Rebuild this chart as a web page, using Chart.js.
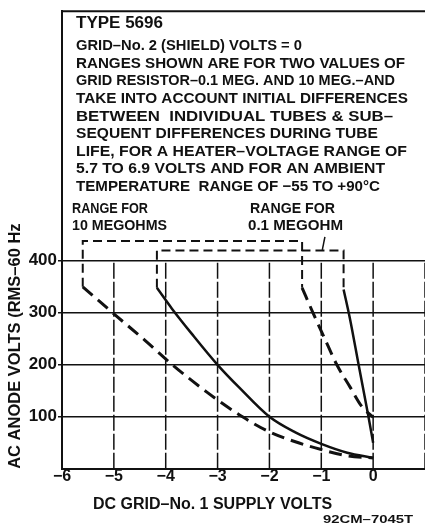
<!DOCTYPE html>
<html>
<head>
<meta charset="utf-8">
<script src="https://cdn.jsdelivr.net/npm/chart.js@4.4.1/dist/chart.umd.min.js"></script>
<style>
  html, body { margin: 0; padding: 0; background: #fff; }
  #wrap { position: relative; width: 425px; height: 525px; }
</style>
</head>
<body>
<div id="wrap"><canvas id="chart"></canvas></div>
<script>
// 10 megohm grid resistor range (dashed curves)
const dashLowX = [-5.6, -5.0, -4.4, -3.87, -3.2, -2.52, -2.0, -1.5, -1.0, -0.5, 0];
const dashLowY = [350, 298, 247, 200, 147, 100, 71, 52, 37, 25, 21];
const dashHighX = [-1.37, -1.16, -0.95, -0.70, -0.45, -0.22, 0];
const dashHighY = [348, 300, 254, 200, 158, 120, 99];

// 0.1 megohm grid resistor range (solid curves)
const solidLowX = [-4.17, -3.88, -3.5, -3.0, -2.58, -2.0, -1.5, -1.0, -0.5, 0];
const solidLowY = [348, 308, 260, 200, 156, 100, 70, 48, 31, 21];
const solidHighX = [-0.57, -0.45, -0.28, -0.09, 0];
const solidHighY = [345, 290, 200, 100, 50];

// brackets marking the two ranges, and the leader to the 0.1 megohm label
const bracket10X = [-5.6, -5.6, -1.37, -1.37];
const bracket10Y = [350, 438, 438, 348];
const bracket01X = [-4.17, -4.17, -0.57, -0.57];
const bracket01Y = [348, 420, 420, 345];
const leaderX = [-0.93, -0.98];
const leaderY = [446, 421];

// axes
const xTickValues = [-6, -5, -4, -3, -2, -1, 0];
const yTickValues = [100, 200, 300, 400];
const xGridValues = [-5, -4, -3, -2, -1, 0, 1];
const gridTop = 400;

const noteLines = [
  'TYPE 5696',
  'GRID\u2013No. 2 (SHIELD) VOLTS = 0',
  'RANGES SHOWN ARE FOR TWO VALUES OF',
  'GRID RESISTOR\u20130.1 MEG. AND 10 MEG.\u2013AND',
  'TAKE INTO ACCOUNT INITIAL DIFFERENCES',
  'BETWEEN  INDIVIDUAL TUBES & SUB\u2013',
  'SEQUENT DIFFERENCES DURING TUBE',
  'LIFE, FOR A HEATER\u2013VOLTAGE RANGE OF',
  '5.7 TO 6.9 VOLTS AND FOR AN AMBIENT',
  'TEMPERATURE  RANGE OF \u221255 TO +90\u00b0C'
];
// width each note line takes in the original lettering
const noteWidths = [87, 226, 329, 319, 332, 317, 302, 331, 309, 304];

const INK = '#111';
const FONT = '"Liberation Sans", Arial, sans-serif';

const pts = (xs, ys) => xs.map((x, i) => ({ x, y: ys[i] }));

// stretch or squeeze a text line to a given width
function fitText(ctx, text, x, y, w, align) {
  const natural = ctx.measureText(text).width;
  ctx.save();
  ctx.translate(align === 'right' ? x - w : x, y);
  ctx.scale(w / natural, 1);
  ctx.textAlign = 'left';
  ctx.fillText(text, 0, 0);
  ctx.restore();
}

const framePlugin = {
  id: 'frame',
  beforeDatasetsDraw(chart) {
    const { ctx, chartArea, scales: { x, y } } = chart;
    ctx.save();
    ctx.strokeStyle = INK;
    ctx.lineWidth = 1.5;
    ctx.setLineDash([16, 3]);
    const y0 = y.getPixelForValue(0);
    const y1 = y.getPixelForValue(gridTop);
    xGridValues.forEach((v) => {
      const px = x.getPixelForValue(v);
      ctx.beginPath();
      ctx.moveTo(px, y0);
      ctx.lineTo(px, y1);
      ctx.stroke();
    });
    ctx.setLineDash([]);
    ctx.lineWidth = 2;
    ctx.beginPath();
    ctx.moveTo(chartArea.left, chartArea.top);
    ctx.lineTo(chartArea.right, chartArea.top);
    ctx.stroke();
    ctx.restore();
  }
};

const notesPlugin = {
  id: 'notes',
  afterDatasetsDraw(chart) {
    const ctx = chart.ctx;
    ctx.save();
    ctx.fillStyle = INK;
    ctx.textBaseline = 'middle';
    noteLines.forEach((line, i) => {
      ctx.font = (i === 0 ? 'bold 16px ' : 'bold 15px ') + FONT;
      const yy = i === 0 ? 24 : 46 + (i - 1) * 17.6;
      fitText(ctx, line, 76, yy, noteWidths[i]);
    });
    ctx.font = 'bold 15px ' + FONT;
    fitText(ctx, 'RANGE FOR', 72, 209, 76);
    fitText(ctx, '10 MEGOHMS', 72, 226, 95);
    fitText(ctx, 'RANGE FOR', 250, 209, 85);
    fitText(ctx, '0.1 MEGOHM', 248, 226, 95);
    ctx.font = 'bold 11px ' + FONT;
    fitText(ctx, '92CM\u20137045T', 413, 520, 90, 'right');
    ctx.restore();
  }
};

const curve = (data, dashed) => ({
  data,
  borderColor: INK,
  borderWidth: dashed ? 3 : 2.5,
  borderDash: dashed ? [13, 7] : [],
  pointRadius: 0,
  cubicInterpolationMode: 'monotone',
  fill: false
});
const bracket = (data) => ({
  data,
  borderColor: INK,
  borderWidth: 2,
  borderDash: [9, 5],
  pointRadius: 0,
  tension: 0,
  fill: false
});

new Chart(document.getElementById('chart'), {
  type: 'line',
  data: {
    datasets: [
      curve(pts(dashLowX, dashLowY), true),
      curve(pts(dashHighX, dashHighY), true),
      curve(pts(solidLowX, solidLowY), false),
      curve(pts(solidHighX, solidHighY), false),
      bracket(pts(bracket10X, bracket10Y)),
      bracket(pts(bracket01X, bracket01Y)),
      { data: pts(leaderX, leaderY), borderColor: INK, borderWidth: 1.5, pointRadius: 0 }
    ]
  },
  options: {
    responsive: true,
    maintainAspectRatio: false,
    animation: false,
    events: [],
    layout: { padding: { top: 11, left: 0, right: 0, bottom: 0 } },
    plugins: {
      legend: { display: false },
      tooltip: { enabled: false },
      title: {
        display: true,
        position: 'bottom',
        text: 'DC GRID\u2013No. 1 SUPPLY VOLTS',
        color: INK,
        font: { family: FONT, size: 16, weight: 'bold', lineHeight: 1 },
        padding: { top: 6, bottom: 12.2 }
      }
    },
    scales: {
      x: {
        type: 'linear',
        min: -6,
        max: 1,
        afterBuildTicks: (axis) => { axis.ticks = xTickValues.map((v) => ({ value: v })); },
        afterFit: (axis) => { axis.height = 22; },
        ticks: {
          color: INK,
          padding: 0,
          maxRotation: 0,
          font: { family: FONT, size: 16, weight: 'bold', lineHeight: 1 },
          callback: (v) => (v < 0 ? '\u2212' + (-v) : String(v))
        },
        grid: { display: false, drawTicks: false },
        border: { display: true, color: INK, width: 2 }
      },
      y: {
        min: 0,
        max: 880,
        afterBuildTicks: (axis) => { axis.ticks = yTickValues.map((v) => ({ value: v })); },
        afterFit: (axis) => { axis.width = 62; },
        ticks: {
          color: INK,
          padding: 1,
          font: { family: FONT, size: 17, weight: 'bold' }
        },
        grid: { color: INK, lineWidth: 1.5, tickLength: 4, drawTicks: true },
        border: { display: true, color: INK, width: 2 },
        title: {
          display: true,
          text: 'AC ANODE VOLTS (RMS\u201360 Hz',
          align: 'start',
          color: INK,
          font: { family: FONT, size: 16.5, weight: 'bold', lineHeight: 1.1 },
          padding: { top: 6, bottom: 0 }
        }
      }
    }
  },
  plugins: [framePlugin, notesPlugin]
});
</script>
</body>
</html>
